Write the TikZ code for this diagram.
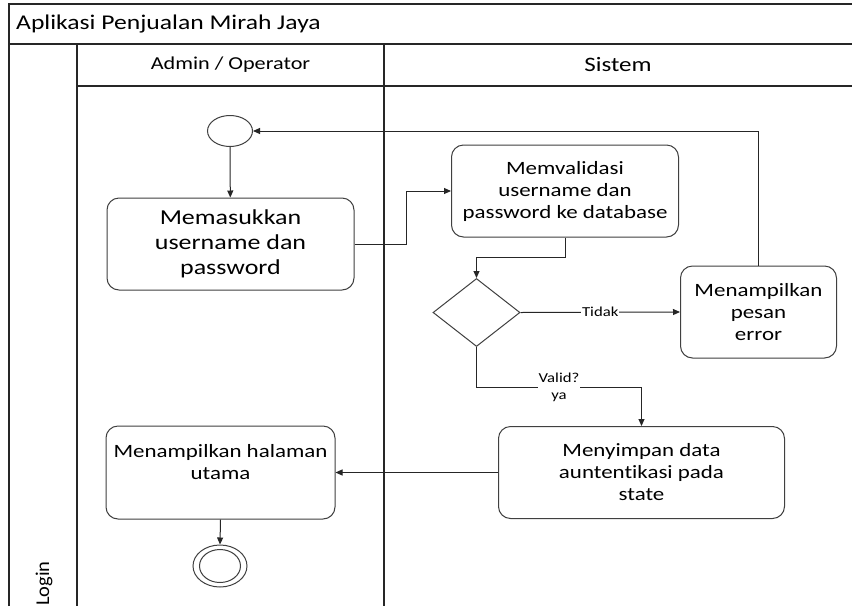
\documentclass[tikz,border=0pt]{standalone}
\usepackage{fontspec}
\setmainfont{Carlito}[FakeStretch=1.22, Ligatures={NoCommon}]
\newfontfamily\plainfont{Carlito}[FakeStretch=1.05, Ligatures={NoCommon}]
\usetikzlibrary{shapes.geometric,arrows.meta}

\tikzset{
  lane/.style={draw=black!85, line width=1.1pt},
  activity/.style={draw=black!75, line width=1pt, rounded corners=12pt,
    rectangle, align=center, inner sep=0pt, text=black},
  boxfont/.style={font=\fontsize{18.8}{22}\selectfont},
  decision/.style={draw=black!75, line width=1pt, diamond, inner sep=0pt},
  terminal/.style={draw=black!75, line width=1pt, ellipse, inner sep=0pt},
  flow/.style={draw=black!85, line width=1pt,
    -{Triangle[length=7pt,width=6pt]}},
  guard/.style={fill=white, inner sep=1pt, align=center,
    font=\fontsize{13.7}{17}\selectfont},
}

\begin{document}
\begin{tikzpicture}[x=1pt, y=-1pt]
\useasboundingbox (0,0) rectangle (852,606);
\fill[white] (0,0) rectangle (852,606);

% pool frame and swimlanes
\draw[lane] (9,606) -- (9,4) -- (852,4);
\draw[lane] (9,44) -- (852,44);
\draw[lane] (77,86) -- (852,86);
\draw[lane] (77,44) -- (77,606);
\draw[lane] (384,44) -- (384,606);

\node[anchor=west, inner sep=0pt, font=\fontsize{21}{25}\selectfont] (title) at (16,24) {Aplikasi Penjualan Mirah Jaya};
\node[inner sep=0pt, font=\fontsize{18.2}{22}\selectfont] (laneA) at (230.5,65) {Admin / Operator};
\node[inner sep=0pt, font=\fontsize{20.5}{24}\selectfont] (laneB) at (618,65) {Sistem};
\node[rotate=90, inner sep=0pt, font=\plainfont\fontsize{19.5}{22}\selectfont] (pool) at (44,583.5) {Login};

% activities
\node[terminal, minimum width=45pt, minimum height=31pt] (start) at (230,131) {};
\node[activity, minimum width=247pt, minimum height=92pt,
      font=\fontsize{21.3}{25}\selectfont] (input) at (230.5,244)
      {Memasukkan\\username dan\\password};
\node[activity, boxfont, minimum width=227pt, minimum height=92pt] (validate) at (565,191)
      {Memvalidasi\\username dan\\password ke database};
\node[decision, minimum width=87pt, minimum height=68pt] (check) at (476.5,312.5) {};
\node[activity, boxfont, minimum width=156pt, minimum height=92pt] (error) at (758.5,312)
      {Menampilkan\\pesan\\error};
\node[activity, boxfont, minimum width=286pt, minimum height=92pt] (store) at (641.5,472.5)
      {Menyimpan data\\auntentikasi pada\\state};
\node[activity, boxfont, minimum width=229pt, minimum height=93pt] (home) at (220.5,472.5)
      {Menampilkan halaman\\utama\\\mbox{}};
\node[terminal, minimum width=54pt, minimum height=42pt] (finish) at (220,566) {};
\node[terminal, minimum width=41pt, minimum height=33pt] (finishin) at (220,566) {};

% control flow
\draw[flow] (start) -- (input);
\draw[flow] (input.east) -- ++(52,0) |- (validate.west);
\draw[flow] (validate.south) -- ++(0,20) -| (check.north);
\draw[flow] (check.east) -- node[guard] {Tidak} (error.west);
\draw[flow] (error.north) |- (start.east);
\draw[flow] (check.south) -- ++(0,40.5) -| node[guard, pos=0.25] {Valid?\\ya} (store.north);
\draw[flow] (store.west) -- (home.east);
\draw[flow] (home.south) -- (finish.north);
\end{tikzpicture}
\end{document}
